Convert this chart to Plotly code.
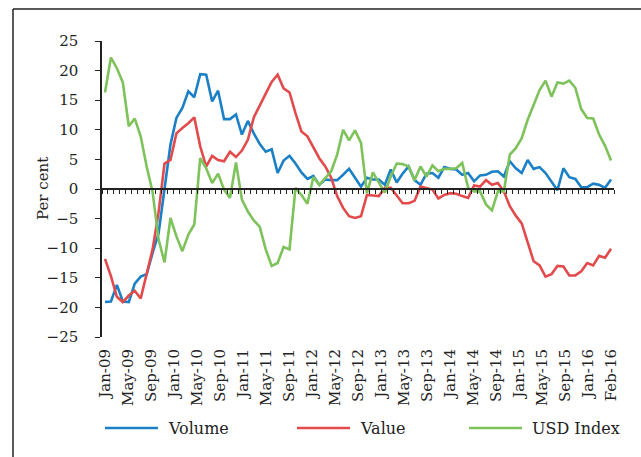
import numpy as np
import plotly.graph_objects as go

# monthly, Jan-09 .. Feb-16 (86 months)
months = [f"{m}-{y:02d}" for y in range(9, 17)
          for m in ["Jan", "Feb", "Mar", "Apr", "May", "Jun", "Jul", "Aug", "Sep", "Oct", "Nov", "Dec"]][:86]

volume = [-19.1, -19.0, -16.2, -19.0, -19.1, -16.0, -14.8, -14.4, -10.8, -7.5,
          0.0, 7.5, 12.0, 13.7, 16.5, 15.5, 19.4, 19.3, 14.8, 16.6,
          11.8, 11.8, 12.6, 9.2, 11.5, 9.4, 7.6, 6.3, 6.7, 2.7,
          4.8, 5.6, 4.3, 2.8, 1.7, 2.2, 0.7, 1.6, 1.5, 1.5,
          2.4, 3.4, 1.9, 0.4, 1.9, 1.6, 1.6, 0.7, 3.3, 1.1,
          2.6, 3.8, 1.5, 0.7, 2.6, 2.7, 1.9, 3.7, 3.4, 3.3,
          2.4, 2.7, 1.3, 2.3, 2.4, 2.9, 3.0, 2.1, 4.7, 3.5,
          2.7, 4.9, 3.4, 3.7, 2.7, 1.3, -0.2, 3.5, 2.0, 1.7,
          0.3, 0.3, 0.9, 0.7, 0.2, 1.6]

value = [-11.8, -14.7, -18.2, -19.1, -18.0, -17.2, -18.5, -14.2, -10.2, -4.0,
         4.3, 4.9, 9.4, 10.3, 11.1, 12.1, 7.2, 3.8, 5.6, 4.9,
         4.7, 6.3, 5.4, 6.5, 8.3, 12.1, 14.0, 16.1, 18.1, 19.3,
         17.0, 16.3, 12.8, 9.7, 8.9, 7.0, 5.2, 3.8, 1.9, -1.2,
         -3.2, -4.6, -4.9, -4.6, -1.0, -1.1, -1.2, 0.2, 0.2, -1.1,
         -2.4, -2.4, -2.0, 0.4, 0.2, -0.1, -1.6, -1.0, -0.7, -0.8,
         -1.2, -1.5, 0.6, 0.4, 1.5, 0.7, 1.0, -0.4, -2.9, -4.5,
         -5.8, -9.0, -12.2, -12.9, -14.8, -14.4, -13.0, -13.1, -14.6, -14.6,
         -13.9, -12.5, -12.9, -11.3, -11.6, -10.1]

usd_index = [16.3, 22.2, 20.4, 18.0, 10.6, 11.9, 8.9, 3.8, -0.5, -8.5,
             -12.4, -4.9, -8.0, -10.5, -7.7, -6.0, 5.2, 3.5, 1.0, 2.6,
             -0.1, -1.5, 4.5, -1.8, -3.8, -5.3, -6.4, -10.2, -13.0, -12.5,
             -9.8, -10.2, 0.2, -1.0, -2.5, 2.0, 0.7, 1.9, 3.0, 5.8,
             10.0, 8.2, 9.9, 7.8, -0.7, 2.8, 1.0, -0.6, 2.1, 4.3,
             4.2, 3.8, 1.5, 3.8, 2.1, 4.0, 3.0, 3.4, 3.4, 3.5,
             4.4, 0.2, -0.4, -0.4, -2.6, -3.6, -0.4, -0.4, 5.8, 6.9,
             8.6, 11.7, 14.2, 16.7, 18.3, 15.6, 18.0, 17.8, 18.3, 17.1,
             13.5, 12.0, 11.9, 9.2, 7.3, 4.8]

tick_labels = ["Jan-09", "May-09", "Sep-09", "Jan-10", "May-10", "Sep-10", "Jan-11",
               "May-11", "Sep-11", "Jan-12", "May-12", "Sep-12", "Jan-13", "May-13",
               "Sep-13", "Jan-14", "May-14", "Sep-14", "Jan-15", "May-15", "Sep-15",
               "Jan-16", "Feb-16"]

names = ["Volume", "Value", "USD Index"]
colors = ["#1C80C6", "#E24A4C", "#7DC25A"]

FONT = "DejaVu Serif"
W, H = 641, 457
L, R, T, B = 102, 27, 41, 120
pw, ph = W - L - R, H - T - B

def px_x(px):
    return (px - L) / pw

def px_y(py):
    return (H - B - py) / ph

x = list(range(len(months)))

fig = go.Figure()
for name, ys, c in zip(names, [volume, value, usd_index], colors):
    fig.add_scatter(x=x, y=ys, name=name, mode="lines", hovertext=months,
                    line=dict(color=c, width=2.6), showlegend=False)

# axis crossing at zero, with category boundary ticks
fig.add_scatter(x=[], y=[], xaxis="x2", showlegend=False)

shapes = [
    dict(type="line", xref="paper", yref="paper", x0=px_x(13), x1=px_x(13),
         y0=px_y(470), y1=px_y(9), line=dict(color="#222", width=1.5)),
    dict(type="line", xref="paper", yref="paper", x0=px_x(13), x1=px_x(650),
         y0=px_y(9), y1=px_y(9), line=dict(color="#222", width=1.5)),
]
annotations = [dict(xref="paper", yref="paper", x=px_x(43), y=0.5, text="Per cent",
                    textangle=-90, showarrow=False, xanchor="center", yanchor="middle",
                    font=dict(family=FONT, size=15, color="#222"))]
legend_px = [105, 297, 469]
for lx, name, c in zip(legend_px, names, colors):
    shapes.append(dict(type="line", xref="paper", yref="paper",
                       x0=px_x(lx), x1=px_x(lx + 53), y0=px_y(428), y1=px_y(428),
                       line=dict(color=c, width=2.6)))
    annotations.append(dict(xref="paper", yref="paper", x=px_x(lx + 61), y=px_y(428),
                            text=name, showarrow=False, xanchor="left", yanchor="middle",
                            font=dict(family=FONT, size=16, color="#222")))

fig.update_layout(
    width=W, height=H,
    margin=dict(l=L, r=R, t=T, b=B),
    paper_bgcolor="white", plot_bgcolor="white",
    font=dict(family=FONT, size=15, color="#222"),
    showlegend=False,
    xaxis=dict(range=[-0.5, 85.5], tickmode="array",
               tickvals=list(np.linspace(0, 85, len(tick_labels))), ticktext=tick_labels,
               tickangle=-90, showgrid=False, zeroline=False, showline=False,
               ticks="", ticklabelstandoff=8),
    xaxis2=dict(range=[-0.5, 85.5], overlaying="x", anchor="free", position=0.5,
                tickmode="array", tickvals=[i - 0.5 for i in range(87)],
                ticks="outside", ticklen=4, tickcolor="#222", tickwidth=1,
                showticklabels=False, showline=True, linecolor="#222", linewidth=1.5,
                showgrid=False, zeroline=False),
    yaxis=dict(range=[-25, 25], dtick=5, showgrid=False, zeroline=False,
               showline=True, linecolor="#222", linewidth=1.5,
               ticks="outside", ticklen=5, tickcolor="#222",
               ticklabelstandoff=14),
    shapes=shapes,
    annotations=annotations,
)

fig.write_html("out.html", config={"displayModeBar": False},
               post_script="document.body.style.margin='0px';")
